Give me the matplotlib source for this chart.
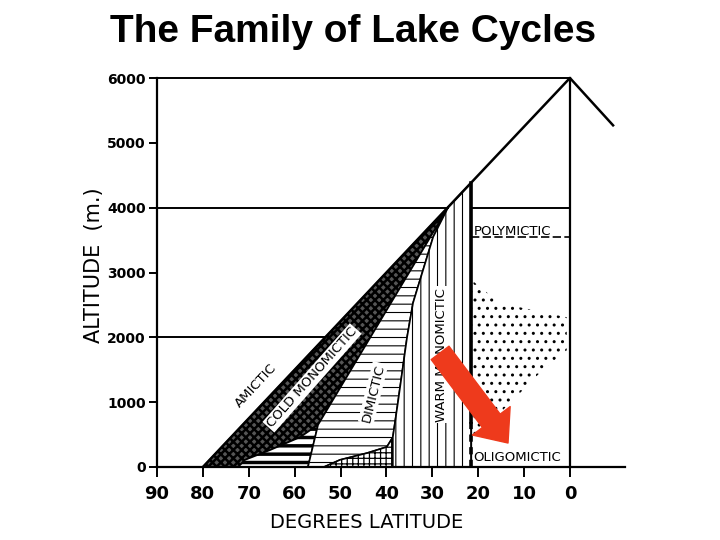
import matplotlib
matplotlib.use('Agg')
import matplotlib.pyplot as plt
from matplotlib.patches import Polygon, FancyArrowPatch

# latitude (deg) / altitude (m)
x_ticks = [90, 80, 70, 60, 50, 40, 30, 20, 10, 0]
y_ticks = [0, 1000, 2000, 3000, 4000, 5000, 6000]

# outer snow-line boundary and the little ridge on the right
outer_lat = [80, 0, -9.4]
outer_alt = [0, 6000, 5270]

# thick vertical at the tropic
tropic_lat = 21.5
tropic_top = 4387

cold_lat = [80, 72.3, 70.8, 65.4, 58.8, 54.9, 40.0, 26.5]
cold_alt = [0, 0, 110, 260, 460, 650, 2400, 4010]

low_strip_lat = [72.3, 57.1, 54.9, 58.8, 65.4, 70.8]
low_strip_alt = [0, 0, 650, 460, 260, 110]

dimictic_lat = [57.1, 54.9, 26.5, 29.8, 32.0, 34.2, 35.5, 37.5, 38.6, 39.9, 44.2, 50.1, 53.6]
dimictic_alt = [0, 650, 4010, 3550, 3040, 2530, 2000, 990, 460, 310, 215, 110, 0]

grid_lat = [53.6, 50.1, 44.2, 39.9, 38.6, 38.6]
grid_alt = [0, 110, 215, 310, 460, 0]

warm_lat = [38.6, 38.6, 37.5, 35.5, 34.2, 32.0, 29.8, 26.5, 21.5, 21.5]
warm_alt = [0, 460, 990, 2000, 2530, 3040, 3550, 4010, 4387, 0]

stipple_lat = [21.4, 15.3, 8.1, 0.7, 0.7, 5.9, 10.2, 13.1, 18.1, 20.3, 21.1]
stipple_alt = [2880, 2530, 2420, 2310, 1800, 1500, 1190, 990, 620, 420, 310]

arrow_from = (28.3, 1760)
arrow_to = (13.5, 370)

fig = plt.figure(figsize=(7.2, 5.4), dpi=100)
ax = fig.add_axes([157 / 720, 73 / 540, 468 / 720, 389 / 540])
ax.set_xlim(90, -12)
ax.set_ylim(0, 6000)

def zone(lat, alt, hatch, lw=1.0, face='white', edge_lw=1.2):
    with plt.rc_context({'hatch.linewidth': lw}):
        p = Polygon(list(zip(lat, alt)), closed=True, facecolor=face,
                    edgecolor='black', hatch=hatch, linewidth=edge_lw, zorder=2)
    if hasattr(p, 'set_hatch_linewidth'):
        p.set_hatch_linewidth(lw)
    ax.add_patch(p)
    return p

zone(cold_lat, cold_alt, 'xxxx', lw=1.8, face='#555555')
zone(low_strip_lat, low_strip_alt, '--', lw=2.5)
zone(dimictic_lat, dimictic_alt, '--', lw=0.8)
zone(grid_lat, grid_alt, '+++', lw=0.9)
zone(warm_lat, warm_alt, '||', lw=0.8)
zone(stipple_lat, stipple_alt, '..', lw=1.0, face='none', edge_lw=0)

# frame lines of the diagram
ax.plot(outer_lat, outer_alt, color='black', lw=1.8, zorder=3, clip_on=False)
ax.plot([90, 0], [6000, 6000], color='black', lw=1.4, clip_on=False)
ax.plot([90, 26.5], [4000, 4000], color='black', lw=1.4)
ax.plot([tropic_lat, 0], [4000, 4000], color='black', lw=1.4)
ax.plot([90, 53.3], [2000, 2000], color='black', lw=1.4)
ax.plot([0, 0], [0, 6000], color='black', lw=1.6, clip_on=False)
ax.plot([tropic_lat, tropic_lat], [700, tropic_top], color='black', lw=2.6, zorder=3)
ax.plot([tropic_lat, tropic_lat], [0, 700], color='black', lw=2.6, ls=(0, (2, 1.5)), zorder=3)
ax.plot([tropic_lat, 0], [3540, 3540], color='black', lw=1.2, ls=(0, (5, 2)))

lab = dict(fontsize=9.5, color='black', ha='center', va='center', zorder=4)
box = dict(facecolor='white', edgecolor='none', pad=1.0)
ax.text(68.5, 1250, 'AMICTIC', rotation=47, **lab)
ax.text(56.2, 1375, 'COLD MONOMICTIC', rotation=48.5, bbox=box, **lab)
ax.text(42.9, 1140, 'DIMICTIC', rotation=76, bbox=box, **lab)
ax.text(27.9, 1730, 'WARM MONOMICTIC', rotation=90, bbox=box, **lab)
ax.text(21.0, 3640, 'POLYMICTIC', fontsize=9.5, ha='left', va='center', zorder=4)
ax.text(21.0, 140, 'OLIGOMICTIC', fontsize=9.5, ha='left', va='center', zorder=4)

arr = FancyArrowPatch(arrow_from, arrow_to,
                      arrowstyle='simple,tail_width=1.6,head_width=3.4,head_length=2.0',
                      mutation_scale=10, color='#EE3A1C', shrinkA=0, shrinkB=0, zorder=6)
ax.add_patch(arr)

# axes
for s in ['top', 'right']:
    ax.spines[s].set_visible(False)
ax.spines['left'].set_linewidth(1.6)
ax.spines['bottom'].set_linewidth(1.6)
ax.set_xticks(x_ticks)
ax.set_xticklabels([str(v) for v in x_ticks], fontsize=13, fontweight='bold')
ax.set_yticks(y_ticks)
ax.set_yticklabels([str(v) for v in y_ticks], fontsize=10, fontweight='bold')
ax.tick_params(axis='x', length=7, width=1.4, pad=6)
ax.tick_params(axis='y', length=6, width=1.4, pad=2)

ax.set_xlabel('DEGREES LATITUDE', fontsize=14)
ax.xaxis.set_label_coords(0.447, -0.118)
ax.set_ylabel('ALTITUDE  (m.)', fontsize=15)
ax.yaxis.set_label_coords(-0.113, 0.52)

fig.text(0.49, 0.94, 'The Family of Lake Cycles', fontsize=28, fontweight='bold',
         family='Liberation Sans', ha='center', va='center')

fig.savefig('out.png', dpi=100)
